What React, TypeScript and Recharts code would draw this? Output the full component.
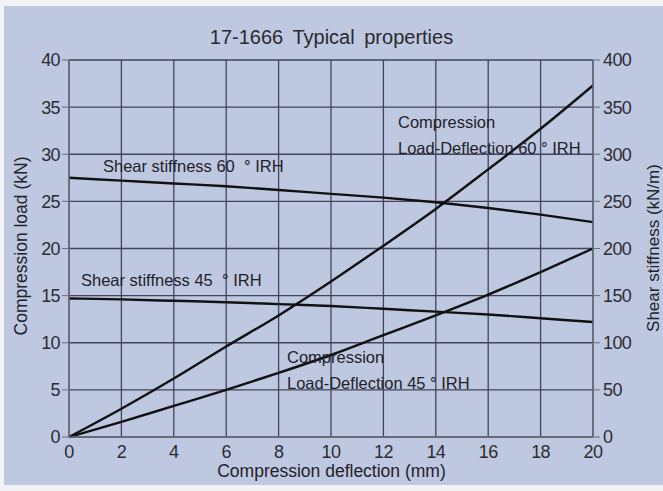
import { LineChart, Line, XAxis, YAxis, CartesianGrid } from 'recharts';

const deflection = [0, 2, 4, 6, 8, 10, 12, 14, 16, 18, 20];
const load60 = [0, 3.0, 6.2, 9.6, 12.9, 16.5, 20.3, 24.2, 28.4, 32.7, 37.3];
const load45 = [0, 1.6, 3.3, 5.0, 6.8, 8.7, 10.8, 12.9, 15.1, 17.5, 20.0];
const shear60 = [275, 272, 269, 266, 262, 258, 254, 249, 243, 236, 228];
const shear45 = [147, 146, 144.5, 143, 141, 139, 136, 133, 130, 126, 122];

const xTicks = [0, 2, 4, 6, 8, 10, 12, 14, 16, 18, 20];
const loadTicks = [0, 5, 10, 15, 20, 25, 30, 35, 40];
const shearTicks = [0, 50, 100, 150, 200, 250, 300, 350, 400];

const data = deflection.map((x, i) => ({
    x,
    load60: load60[i],
    load45: load45[i],
    shear60: shear60[i],
    shear45: shear45[i]
}));

const tickFont = { fontFamily: '"Liberation Sans", Arial, sans-serif', fontSize: 18, fill: '#2c2c33', letterSpacing: -0.6 };
const textFont = { fontFamily: '"Liberation Sans", Arial, sans-serif', fontSize: 16.5, color: '#222228' };

const Note = ({ x, y, children }: { x: number; y: number; children: React.ReactNode }) => (
    <div style={{ position: 'absolute', left: x, top: y, whiteSpace: 'nowrap', lineHeight: '26px', ...textFont }}>
        {children}
    </div>
);

const App = () => {
    return (
        <div style={{ position: 'fixed', left: 0, top: 0, width: 663, height: 491, background: '#f2f3f5', overflow: 'hidden' }}>
            <div style={{ position: 'absolute', left: 4, top: 6, width: 659, height: 479, background: '#bfc8e1' }} />
            <div style={{ position: 'absolute', left: 0, top: 0 }}>
                <LineChart width={663} height={491} data={data} margin={{ top: 60, right: 10, bottom: 24, left: 9 }}>
                    <CartesianGrid yAxisId="left" stroke="#41445a" strokeWidth={1.3} />
                    <XAxis
                        type="number"
                        dataKey="x"
                        domain={[0, 20]}
                        ticks={xTicks}
                        tickLine={false}
                        axisLine={{ stroke: '#6a6d7a', strokeWidth: 1.5 }}
                        tick={tickFont}
                        height={30}
                        interval={0}
                        tickMargin={2}
                    />
                    <YAxis
                        yAxisId="left"
                        domain={[0, 40]}
                        ticks={loadTicks}
                        width={60}
                        axisLine={{ stroke: '#6a6d7a', strokeWidth: 1.5 }}
                        tickLine={{ stroke: '#6a6d7a' }}
                        tickSize={7}
                        tickMargin={2}
                        tick={tickFont}
                        interval={0}
                    />
                    <YAxis
                        yAxisId="right"
                        orientation="right"
                        domain={[0, 400]}
                        ticks={shearTicks}
                        width={60}
                        axisLine={{ stroke: '#6a6d7a', strokeWidth: 1.5 }}
                        tickLine={{ stroke: '#6a6d7a' }}
                        tickSize={7}
                        tickMargin={3}
                        tick={tickFont}
                        interval={0}
                    />
                    <Line yAxisId="left" type="monotone" dataKey="load60" stroke="#111" strokeWidth={2.4} dot={false} isAnimationActive={false} />
                    <Line yAxisId="left" type="monotone" dataKey="load45" stroke="#111" strokeWidth={2.4} dot={false} isAnimationActive={false} />
                    <Line yAxisId="right" type="monotone" dataKey="shear60" stroke="#111" strokeWidth={2.4} dot={false} isAnimationActive={false} />
                    <Line yAxisId="right" type="monotone" dataKey="shear45" stroke="#111" strokeWidth={2.4} dot={false} isAnimationActive={false} />
                </LineChart>
            </div>
            <div style={{ position: 'absolute', left: 0, width: 663, top: 26, textAlign: 'center', fontFamily: '"Liberation Sans", sans-serif', fontSize: 20, color: '#2a2a30', wordSpacing: 4 }}>
                17-1666 Typical properties
            </div>
            <div style={{ position: 'absolute', left: 0, width: 663, top: 461, textAlign: 'center', ...textFont, fontSize: 17.5 }}>
                Compression deflection (mm)
            </div>
            <div style={{ position: 'absolute', left: 21, top: 246, transform: 'translate(-50%, -50%) rotate(-90deg)', whiteSpace: 'nowrap', ...textFont, fontSize: 17.5 }}>
                Compression load (kN)
            </div>
            <div style={{ position: 'absolute', left: 654, top: 248, transform: 'translate(-50%, -50%) rotate(-90deg)', whiteSpace: 'nowrap', ...textFont, fontSize: 17 }}>
                Shear stiffness (kN/m)
            </div>
            <Note x={103} y={153}>Shear stiffness 60 &nbsp;° IRH</Note>
            <Note x={81} y={267}>Shear stiffness 45 &nbsp;° IRH</Note>
            <Note x={398} y={109}>Compression<br />Load-Deflection 60 ° IRH</Note>
            <Note x={287} y={344}>Compression<br />Load-Deflection 45 ° IRH</Note>
        </div>
    );
};

export default App;
